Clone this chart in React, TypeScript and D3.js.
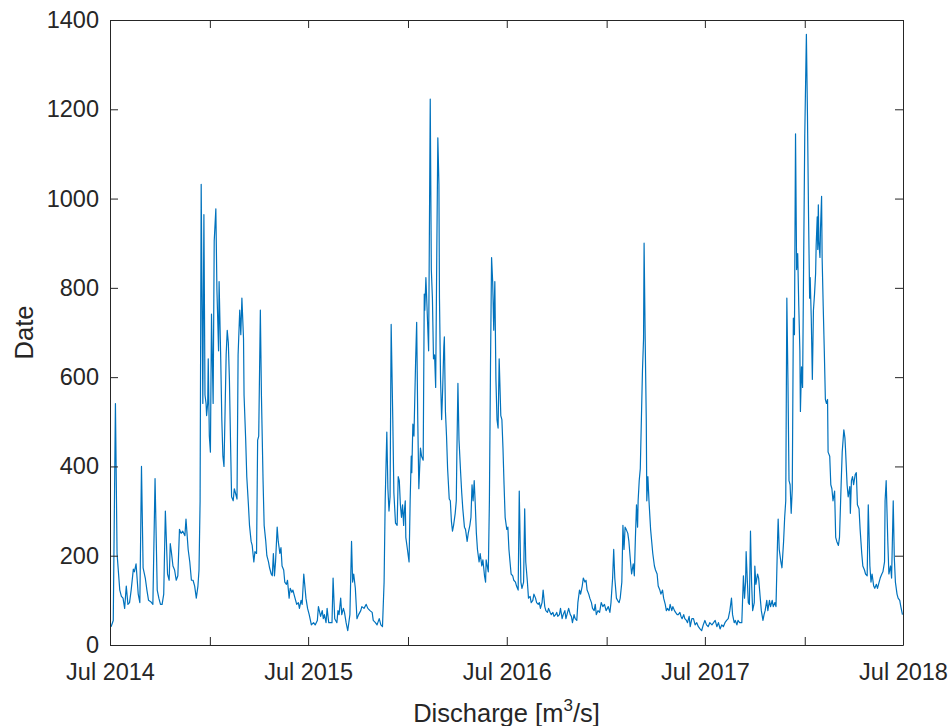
import React, { useEffect, useRef } from 'react';
import * as d3 from 'd3';

// Discharge: [days since 1 Jul 2014, m3/s]
const FLOW_2014_15: [number, number][] = [
  [2, 41], [6, 55], [10, 541], [13, 205], [18, 123], [21, 109], [24, 105], [27, 82], [30, 132], [33, 91],
  [36, 95], [39, 123], [43, 170], [45, 164], [48, 182], [52, 114], [55, 95], [58, 400], [61, 173], [65, 150],
  [68, 123], [71, 100], [75, 97], [79, 91], [83, 373], [87, 123], [90, 105], [93, 91], [96, 91], [99, 114],
  [102, 300], [106, 159], [109, 145], [111, 227], [113, 209], [116, 177], [119, 168], [122, 145], [125, 155],
  [128, 259], [131, 250], [134, 255], [138, 245], [140, 282], [144, 214], [147, 186], [150, 145], [153, 145],
  [156, 132], [159, 105], [162, 132], [164, 168], [166, 323], [168, 1032], [171, 541], [173, 964], [175, 560],
  [177, 541], [178, 514], [180, 541], [181, 641], [183, 468], [185, 432], [187, 741], [190, 541], [192, 905],
  [195, 977], [197, 795], [200, 659], [201, 814], [204, 641], [206, 505], [208, 423], [210, 400], [212, 523],
  [214, 650], [216, 705], [218, 677], [220, 595], [222, 459], [224, 332], [227, 323], [229, 350], [231, 341],
  [234, 327], [236, 650], [239, 750], [241, 695], [243, 777], [246, 686], [247, 559], [250, 459], [252, 377],
  [255, 314], [257, 268], [260, 232], [262, 223], [265, 186], [267, 209], [270, 205], [272, 459], [274, 468],
  [277, 750], [279, 559], [282, 368], [284, 268], [287, 232], [289, 200], [292, 186], [294, 173], [297, 159],
  [299, 155], [301, 205], [303, 155], [305, 186], [308, 264], [310, 232], [313, 205], [315, 218], [317, 177],
  [320, 168], [322, 141], [325, 136], [327, 145], [330, 105], [332, 127], [335, 118], [337, 123], [340, 109],
  [342, 100], [344, 91], [347, 95], [349, 82], [352, 100], [354, 91], [357, 159], [361, 105], [364, 82]
];

const FLOW_2015_16: [number, number][] = [
  [367, 68], [371, 45], [375, 50], [378, 45], [382, 55], [384, 86], [388, 64], [391, 77], [393, 59], [395, 68],
  [398, 50], [400, 82], [403, 50], [406, 50], [409, 50], [411, 150], [414, 59], [418, 50], [420, 77], [422, 68],
  [425, 105], [427, 68], [430, 82], [432, 73], [435, 50], [438, 32], [442, 68], [445, 232], [447, 141],
  [449, 159], [452, 127], [455, 59], [458, 68], [462, 77], [464, 86], [468, 82], [472, 91], [475, 82], [479, 77],
  [483, 73], [485, 55], [489, 50], [492, 45], [496, 59], [499, 45], [502, 41], [505, 141], [507, 323], [510, 477],
  [512, 350], [514, 300], [516, 332], [518, 718], [521, 505], [523, 341], [526, 273], [529, 268], [531, 377],
  [533, 368], [535, 314], [537, 286], [539, 314], [541, 268], [542, 295], [544, 323], [545, 241], [548, 214],
  [550, 195], [551, 186], [553, 323], [555, 423], [556, 386], [558, 495], [560, 468], [563, 632], [565, 723],
  [567, 505], [569, 350], [572, 441], [574, 423], [577, 414], [579, 786], [580, 750], [582, 823], [584, 759],
  [587, 659], [588, 841], [590, 1223], [592, 841], [594, 777], [596, 641], [598, 650], [600, 577], [602, 868],
  [604, 1136], [606, 1032], [607, 777], [609, 595], [611, 505], [613, 577], [615, 668], [616, 690], [618, 523],
  [620, 468], [622, 395], [625, 327], [627, 323], [629, 277], [631, 255], [633, 268], [636, 295], [638, 323],
  [639, 423], [641, 586], [643, 459], [646, 386], [648, 341], [650, 305], [653, 264], [655, 259], [658, 232],
  [660, 250], [663, 268], [665, 286], [667, 359], [669, 323], [671, 368], [673, 314], [675, 250], [677, 214],
  [680, 186], [682, 205], [685, 177], [687, 191], [690, 155], [692, 141], [693, 191], [695, 177], [697, 164],
  [699, 323], [701, 623], [703, 868], [705, 814], [707, 705], [709, 814], [711, 595], [713, 505], [715, 486],
  [717, 641], [720, 514], [722, 505], [724, 441], [726, 359], [728, 286]
];

const FLOW_2016_17: [number, number][] = [
  [731, 259], [733, 264], [735, 214], [737, 186], [739, 159], [742, 155], [744, 145], [747, 141], [749, 132],
  [752, 123], [754, 345], [757, 141], [759, 127], [762, 141], [764, 305], [766, 186], [769, 141], [771, 105],
  [774, 109], [776, 95], [779, 100], [781, 114], [784, 105], [786, 95], [789, 91], [791, 95], [793, 82],
  [796, 95], [798, 123], [801, 86], [803, 77], [806, 73], [808, 82], [811, 73], [813, 68], [816, 73], [818, 64],
  [821, 68], [823, 73], [825, 64], [828, 68], [830, 82], [833, 59], [835, 68], [838, 77], [840, 59], [843, 73],
  [845, 82], [848, 68], [850, 64], [852, 50], [855, 68], [857, 59], [860, 55], [862, 95], [865, 123], [867, 114],
  [870, 132], [872, 150], [875, 141], [877, 145], [879, 123], [882, 114], [884, 105], [887, 95], [889, 82],
  [892, 77], [894, 91], [896, 68], [899, 77], [902, 73], [905, 95], [908, 86], [911, 91], [914, 77], [918, 86],
  [921, 73], [923, 95], [926, 150], [928, 214], [930, 150], [933, 105], [935, 100], [938, 95], [940, 105],
  [943, 141], [945, 268], [947, 214], [949, 264], [951, 259], [954, 250], [956, 232], [959, 186], [961, 159],
  [964, 182], [966, 155], [968, 241], [970, 314], [972, 264], [973, 323], [975, 368], [977, 395], [979, 505],
  [981, 614], [983, 686], [984, 900], [986, 686], [988, 505], [989, 323], [991, 377], [993, 323], [996, 259],
  [998, 232], [1000, 205], [1003, 177], [1005, 168], [1008, 159], [1010, 132], [1013, 123], [1015, 114],
  [1018, 123], [1020, 105], [1023, 91], [1025, 77], [1027, 82], [1030, 77], [1032, 91], [1035, 77], [1037, 86],
  [1040, 77], [1042, 73], [1045, 68], [1047, 68], [1050, 73], [1052, 64], [1054, 59], [1057, 68], [1059, 59],
  [1062, 55], [1064, 50], [1067, 64], [1069, 41], [1072, 59], [1075, 59], [1078, 45], [1081, 50], [1084, 41],
  [1087, 36], [1090, 32], [1093, 45]
];

const FLOW_2017_18: [number, number][] = [
  [1096, 55], [1099, 45], [1102, 41], [1105, 50], [1109, 45], [1112, 50], [1115, 55], [1118, 41], [1121, 50],
  [1124, 36], [1127, 45], [1130, 41], [1133, 50], [1136, 55], [1139, 59], [1142, 77], [1145, 105], [1147, 68],
  [1150, 50], [1152, 55], [1155, 45], [1157, 55], [1160, 50], [1162, 50], [1164, 50], [1167, 155], [1169, 105],
  [1171, 141], [1172, 209], [1174, 150], [1176, 95], [1178, 91], [1180, 255], [1182, 141], [1184, 77], [1187, 95],
  [1188, 177], [1190, 136], [1193, 159], [1195, 150], [1198, 105], [1200, 77], [1203, 55], [1205, 68], [1207, 77],
  [1210, 100], [1212, 77], [1215, 100], [1217, 86], [1220, 100], [1222, 86], [1225, 95], [1227, 86], [1230, 241],
  [1231, 282], [1233, 214], [1236, 186], [1238, 173], [1241, 232], [1243, 286], [1245, 323], [1247, 777],
  [1249, 595], [1251, 368], [1253, 359], [1255, 295], [1257, 350], [1259, 732], [1261, 695], [1263, 1145],
  [1265, 841], [1267, 877], [1269, 759], [1271, 659], [1272, 523], [1274, 623], [1276, 577], [1278, 868],
  [1280, 1141], [1283, 1368], [1285, 1186], [1287, 959], [1289, 777], [1290, 823], [1292, 732], [1294, 595],
  [1296, 750], [1298, 786], [1300, 832], [1301, 895], [1303, 959], [1304, 886], [1305, 986], [1306, 905],
  [1308, 868], [1309, 932], [1311, 1005], [1312, 868], [1314, 759], [1316, 659], [1318, 550], [1320, 541],
  [1322, 550], [1323, 432], [1326, 423], [1328, 359], [1330, 350], [1332, 323], [1335, 345], [1337, 241],
  [1339, 232], [1342, 223], [1344, 241], [1347, 359], [1349, 432], [1352, 482], [1354, 464], [1355, 441],
  [1358, 359], [1360, 332], [1363, 355], [1364, 295], [1366, 368], [1368, 377], [1370, 359], [1373, 382],
  [1375, 386], [1377, 314], [1380, 305], [1382, 259], [1385, 205], [1387, 177], [1390, 168], [1392, 159],
  [1395, 155], [1397, 314], [1400, 177], [1402, 141], [1404, 159], [1407, 132], [1409, 127], [1412, 136],
  [1414, 127], [1417, 141], [1419, 150], [1422, 159], [1424, 164], [1427, 186], [1428, 323], [1430, 368],
  [1433, 232], [1435, 159], [1438, 177], [1440, 150], [1443, 323], [1445, 195], [1447, 141], [1450, 114],
  [1452, 105], [1455, 100], [1457, 86], [1460, 68]
];

const START = new Date(2014, 6, 1);
const END = new Date(2018, 6, 1);
const Y_TICKS = [0, 200, 400, 600, 800, 1000, 1200, 1400];
const X_LABEL_MONTH = 6; // only July ticks carry a label

const W = 952;
const H = 726;
const margin = { top: 20, right: 49, bottom: 81, left: 110 };
const FONT = '"Liberation Sans", Arial, Helvetica, sans-serif';
const AXIS_COLOR = '#262626';
const LINE_COLOR = '#0072BD';

export default function App() {
  const ref = useRef<SVGSVGElement>(null);

  useEffect(() => {
    const svg = d3.select(ref.current);
    svg.selectAll('*').remove();

    const width = W - margin.left - margin.right;
    const height = H - margin.top - margin.bottom;

    const series = [...FLOW_2014_15, ...FLOW_2015_16, ...FLOW_2016_17, ...FLOW_2017_18]
      .map(([d, v]) => ({ date: d3.timeDay.offset(START, d), value: v }));

    const x = d3.scaleTime().domain([START, END]).range([0, width]);
    const y = d3.scaleLinear().domain([0, 1400]).range([height, 0]);
    const xTicks = x.ticks(d3.timeMonth.every(6) as d3.TimeInterval);
    const fmt = d3.timeFormat('%b %Y');

    const g = svg.append('g').attr('transform', `translate(${margin.left},${margin.top})`);

    // data line
    const line = d3.line<{ date: Date; value: number }>()
      .x(d => x(d.date))
      .y(d => y(d.value));
    g.append('path')
      .datum(series)
      .attr('fill', 'none')
      .attr('stroke', LINE_COLOR)
      .attr('stroke-width', 1.2)
      .attr('stroke-linejoin', 'round')
      .attr('d', line);

    const styleAxis = (sel: d3.Selection<SVGGElement, unknown, null, undefined>) => {
      sel.attr('color', AXIS_COLOR)
        .attr('font-family', FONT)
        .attr('font-size', 23.5);
      sel.selectAll('text').attr('fill', AXIS_COLOR);
    };

    // bottom axis
    g.append('g')
      .attr('transform', `translate(0,${height})`)
      .call(d3.axisBottom(x).tickValues(xTicks)
        .tickFormat(d => ((d as Date).getMonth() === X_LABEL_MONTH ? fmt(d as Date) : ''))
        .tickSizeInner(-8).tickSizeOuter(0).tickPadding(18))
      .call(styleAxis);

    // top axis (ticks only)
    g.append('g')
      .call(d3.axisTop(x).tickValues(xTicks).tickFormat(() => '')
        .tickSizeInner(-8).tickSizeOuter(0))
      .call(styleAxis);

    // left axis
    g.append('g')
      .call(d3.axisLeft(y).tickValues(Y_TICKS).tickFormat(d3.format('d'))
        .tickSizeInner(-8).tickSizeOuter(0).tickPadding(11))
      .call(styleAxis);

    // right axis (ticks only)
    g.append('g')
      .attr('transform', `translate(${width},0)`)
      .call(d3.axisRight(y).tickValues(Y_TICKS).tickFormat(() => '')
        .tickSizeInner(-8).tickSizeOuter(0))
      .call(styleAxis);

    // axis labels
    const xl = g.append('text')
      .attr('x', width / 2)
      .attr('y', height + 77)
      .attr('text-anchor', 'middle')
      .attr('font-family', FONT)
      .attr('font-size', 25.5)
      .attr('fill', AXIS_COLOR);
    xl.append('tspan').text('Discharge [m');
    xl.append('tspan').attr('font-size', 17).attr('dy', -11).text('3');
    xl.append('tspan').attr('dy', 11).text('/s]');

    g.append('text')
      .attr('transform', `translate(${-77},${height / 2}) rotate(-90)`)
      .attr('text-anchor', 'middle')
      .attr('font-family', FONT)
      .attr('font-size', 25.5)
      .attr('fill', AXIS_COLOR)
      .text('Date');
  }, []);

  return (
    <svg
      ref={ref}
      width={W}
      height={H}
      style={{ position: 'absolute', left: 0, top: 0, background: '#fff' }}
    />
  );
}
